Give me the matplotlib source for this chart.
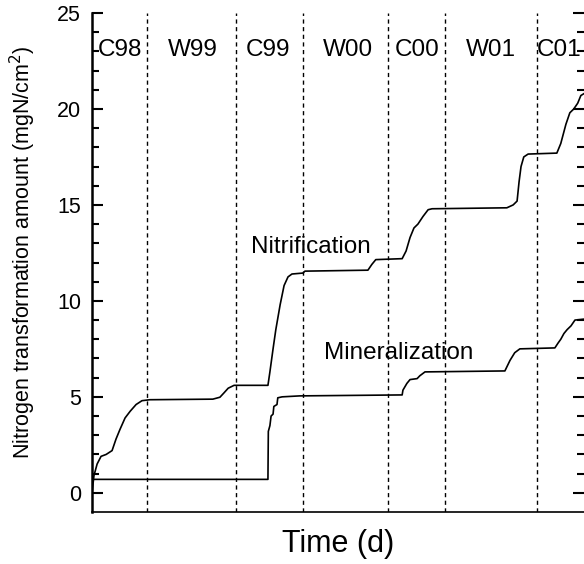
import matplotlib.pyplot as plt
import numpy as np

plt.rcParams['font.family'] = ['Liberation Sans', 'DejaVu Sans']

# time in days from the start of the record, amounts in mgN/cm2
nitr_t = [0, 5, 13, 23, 36, 51, 61, 71, 84, 97, 112, 127, 147, 307, 325, 335,
          346, 361, 447, 452, 460, 467, 478, 488, 498, 508, 536, 541, 701, 711,
          721, 788, 798, 808, 818, 828, 841, 854, 864, 1054, 1070, 1080, 1085,
          1090, 1097, 1108, 1181, 1191, 1204, 1214, 1224, 1234, 1242, 1250]
nitr_v = [0.0, 0.9, 1.5, 1.9, 2.0, 2.2, 2.8, 3.3, 3.9, 4.25, 4.6, 4.8, 4.85,
          4.88, 4.98, 5.2, 5.45, 5.6, 5.6, 6.3, 7.5, 8.5, 9.8, 10.8, 11.25,
          11.4, 11.45, 11.55, 11.6, 11.9, 12.15, 12.2, 12.6, 13.3, 13.8, 14.0,
          14.4, 14.75, 14.8, 14.85, 15.0, 15.2, 16.2, 17.0, 17.5, 17.65, 17.7,
          18.2, 19.2, 19.8, 20.0, 20.3, 20.7, 20.8]

mine_t = [0, 447, 448, 452, 455, 460, 462, 470, 472, 483, 528, 788, 790, 800,
          808, 826, 833, 846, 1049, 1062, 1074, 1087, 1176, 1184, 1191, 1199,
          1207, 1217, 1227, 1250]
mine_v = [0.7, 0.7, 3.2, 3.5, 4.0, 4.1, 4.5, 4.6, 4.95, 5.0, 5.05, 5.1, 5.35,
          5.7, 5.9, 5.95, 6.1, 6.3, 6.35, 6.9, 7.3, 7.5, 7.55, 7.8, 8.0, 8.3,
          8.5, 8.7, 9.0, 9.05]

bounds = [140, 366, 536, 752, 897, 1131]
periods = ['C98', 'W99', 'C99', 'W00', 'C00', 'W01', 'C01']
period_x = [71, 257, 447, 650, 826, 1013, 1186]

fig = plt.figure(figsize=(5.84, 5.64), dpi=100)
ax = fig.add_axes([92 / 584, 52 / 564, 492 / 584, 499 / 564])

ax.plot(nitr_t, nitr_v, color='black', lw=1.2)
ax.plot(mine_t, mine_v, color='black', lw=1.2)

for b in bounds:
    ax.axvline(b, color='black', lw=1, linestyle=(0, (3, 2.5)))
for name, xp in zip(periods, period_x):
    ax.text(xp, 23.05, name, ha='center', va='center', fontsize=17.5)

ax.text(404, 12.8, 'Nitrification', ha='left', va='center', fontsize=17.5)
ax.text(970, 7.28, 'Mineralization', ha='right', va='center', fontsize=17.5)

ax.set_xlim(0, 1250)
ax.set_ylim(-1, 25)
ax.set_xticks([])
ax.set_yticks(np.arange(0, 26, 5))
ax.set_yticks(np.arange(0, 26, 1), minor=True)
ax.tick_params(axis='y', which='both', direction='in', right=True,
               labelsize=15.5, width=1.5, pad=8)
ax.tick_params(axis='y', which='major', length=8)
ax.tick_params(axis='y', which='minor', length=5)
ax.spines['top'].set_visible(False)
ax.spines['right'].set_visible(False)
ax.spines['left'].set_linewidth(1.8)
ax.spines['bottom'].set_linewidth(1.2)

ax.set_ylabel('Nitrogen transformation amount (mgN/cm$^2$)', fontsize=15.5,
              labelpad=8)
ax.yaxis.set_label_coords(-0.11, 0.52)
ax.set_xlabel('Time (d)', fontsize=22, labelpad=12)

fig.savefig('out.png', dpi=100)
